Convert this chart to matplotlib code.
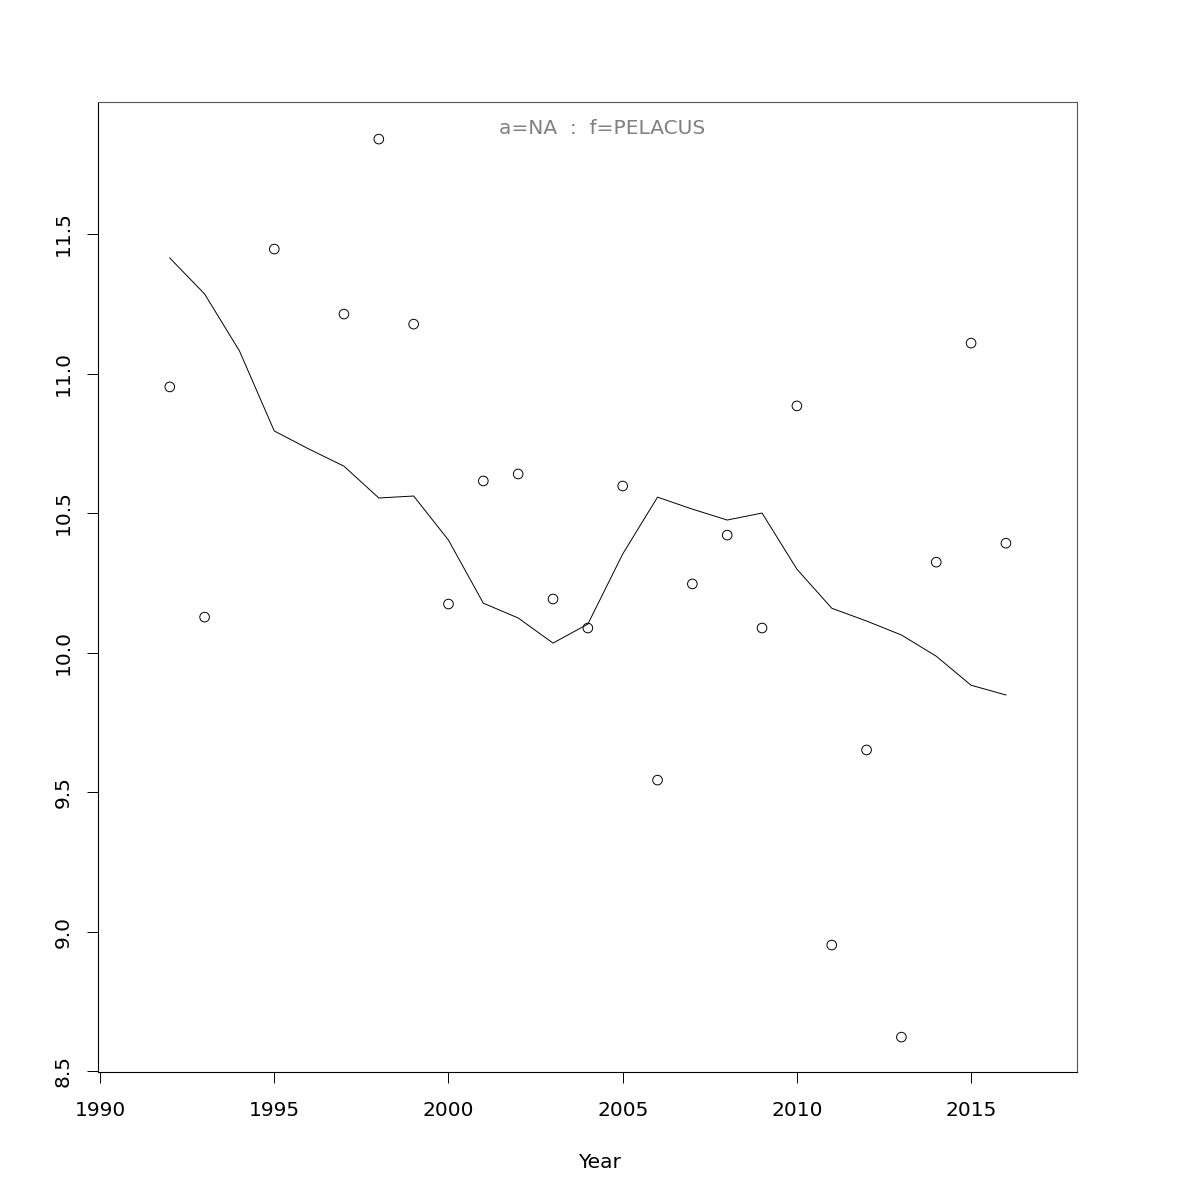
import numpy as np
import matplotlib.pyplot as plt

# observed index values by year
obs_years = [1992, 1993, 1995, 1997, 1998, 1999, 2000, 2001, 2002, 2003, 2004,
             2005, 2006, 2007, 2008, 2009, 2010, 2011, 2012, 2013, 2014, 2015, 2016]
obs_vals = [10.952, 10.127, 11.446, 11.213, 11.840, 11.177, 10.174, 10.615, 10.640,
            10.192, 10.088, 10.597, 9.543, 10.246, 10.421, 10.088, 10.884, 8.952,
            9.651, 8.622, 10.324, 11.109, 10.392]

# fitted line
fit_years = list(range(1992, 2017))
fit_vals = [11.414, 11.285, 11.081, 10.794, 10.729, 10.668, 10.554, 10.561, 10.403,
            10.177, 10.124, 10.034, 10.102, 10.353, 10.557, 10.514, 10.475, 10.500,
            10.299, 10.159, 10.113, 10.063, 9.987, 9.883, 9.848]

xticks = [1990, 1995, 2000, 2005, 2010, 2015]
yticks = [8.5, 9.0, 9.5, 10.0, 10.5, 11.0, 11.5]

fig = plt.figure(figsize=(12, 12), dpi=100)
ax = fig.add_axes([98 / 1200, 128 / 1200, 979 / 1200, 970 / 1200])

ax.plot(fit_years, fit_vals, color='black', linewidth=0.7)
ax.scatter(obs_years, obs_vals, s=48, facecolors='none', edgecolors='black', linewidths=0.7)

ax.set_xlim(1989.94, 2018.04)
ax.set_ylim(8.497, 11.973)

ax.set_xticks(xticks)
ax.set_xticklabels([str(x) for x in xticks], fontsize=14.5)
ax.set_yticks(yticks)
ax.set_yticklabels([f"{y:.1f}" for y in yticks], fontsize=14.5, rotation=90, va='center')
ax.tick_params(direction='out', length=8, width=0.7)
ax.tick_params(axis='x', pad=13)
ax.tick_params(axis='y', pad=10)

for sp in ax.spines.values():
    sp.set_linewidth(0.8)
ax.spines['top'].set_color('#555555')
ax.spines['right'].set_color('#555555')

ax.set_xlabel("Year", fontsize=14.5)
ax.xaxis.set_label_coords((600 - 98) / 979, -0.084)
ax.text(0.515, 0.973, "a=NA  :  f=PELACUS", transform=ax.transAxes, ha='center', va='center',
        fontsize=14.5, color='#808080')

plt.savefig('out.png', dpi=100)
